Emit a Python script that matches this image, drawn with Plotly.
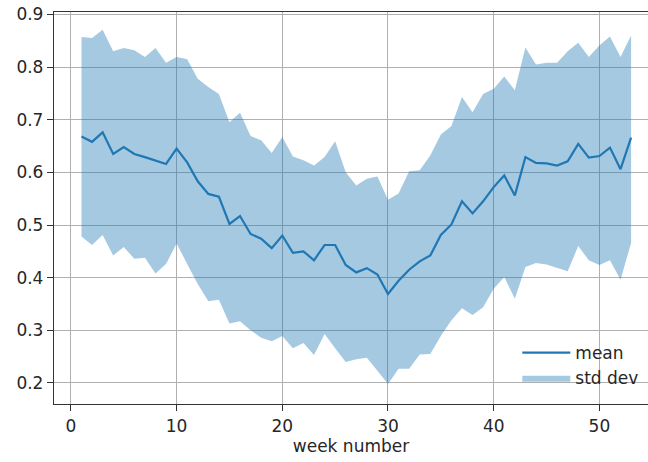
import plotly.graph_objects as go

weeks = list(range(1, 54))
mean = [0.668, 0.658, 0.676, 0.635, 0.648, 0.635, 0.629, 0.623, 0.616, 0.645,
        0.619, 0.583, 0.559, 0.554, 0.502, 0.517, 0.483, 0.474, 0.456, 0.480,
        0.447, 0.450, 0.433, 0.462, 0.462, 0.424, 0.410, 0.418, 0.406, 0.369,
        0.394, 0.415, 0.431, 0.442, 0.481, 0.501, 0.545, 0.522, 0.545, 0.572,
        0.594, 0.556, 0.629, 0.618, 0.617, 0.613, 0.621, 0.654, 0.628, 0.631,
        0.647, 0.606, 0.666]
upper = [0.857, 0.855, 0.871, 0.830, 0.836, 0.832, 0.819, 0.836, 0.808, 0.819,
         0.815, 0.778, 0.762, 0.749, 0.695, 0.713, 0.669, 0.661, 0.637, 0.667,
         0.630, 0.623, 0.613, 0.629, 0.659, 0.600, 0.575, 0.588, 0.592, 0.548,
         0.560, 0.602, 0.604, 0.632, 0.672, 0.688, 0.743, 0.714, 0.749, 0.759,
         0.782, 0.756, 0.837, 0.805, 0.808, 0.808, 0.830, 0.846, 0.819, 0.841,
         0.858, 0.819, 0.860]
lower = [0.478, 0.462, 0.481, 0.442, 0.458, 0.436, 0.438, 0.408, 0.426, 0.465,
         0.426, 0.388, 0.355, 0.358, 0.313, 0.317, 0.300, 0.286, 0.279, 0.289,
         0.266, 0.276, 0.253, 0.293, 0.266, 0.240, 0.245, 0.248, 0.223, 0.198,
         0.227, 0.227, 0.254, 0.255, 0.289, 0.319, 0.342, 0.329, 0.344, 0.379,
         0.401, 0.360, 0.420, 0.428, 0.425, 0.418, 0.412, 0.460, 0.433, 0.424,
         0.433, 0.396, 0.466]

C0 = "#1f77b4"
FONT = "DejaVu Sans"
FS = 17

fig = go.Figure()
fig.add_trace(go.Scatter(x=weeks, y=upper, mode="lines", line=dict(width=0),
                         showlegend=False, hoverinfo="skip"))
fig.add_trace(go.Scatter(x=weeks, y=lower, mode="lines", line=dict(width=0),
                         fill="tonexty", fillcolor="rgba(31,119,180,0.4)",
                         name="std dev", legendrank=2))
fig.add_trace(go.Scatter(x=weeks, y=mean, mode="lines",
                         line=dict(color=C0, width=2.2), name="mean", legendrank=1))

axis_common = dict(
    showgrid=True, gridcolor="#b0b0b0", gridwidth=1.3,
    showline=True, linecolor="#333333", linewidth=1.3,
    ticks="outside", ticklen=6, tickcolor="#333333", tickwidth=1.2,
    tickfont=dict(family=FONT, size=FS, color="#262626"),
    zeroline=False, automargin=False, ticklabeloverflow="allow",
)

fig.update_layout(
    width=648, height=462,
    margin=dict(l=54, r=0, t=12, b=58),
    paper_bgcolor="white", plot_bgcolor="white",
    font=dict(family=FONT, size=FS, color="#262626"),
    showlegend=True,
    legend=dict(x=0.78, y=0.176, xanchor="left", yanchor="top",
                traceorder="normal",
                bgcolor="rgba(0,0,0,0)", borderwidth=0, itemwidth=48,
                font=dict(family=FONT, size=FS, color="#262626"),
                tracegroupgap=0),
    xaxis=dict(range=[-1.6, 54.6], tickvals=[0, 10, 20, 30, 40, 50],
               mirror=True,
               title=dict(text="week number", font=dict(family=FONT, size=FS, color="#262626"), standoff=2),
               **axis_common),
    yaxis=dict(range=[0.160, 0.9046], tickvals=[0.2, 0.3, 0.4, 0.5, 0.6, 0.7, 0.8, 0.9],
               tickformat=".1f", **axis_common),
)

# remove the default page margin so the figure fills the window exactly
fig.write_html("out.html", config={"displayModeBar": False},
               post_script="document.body.style.margin='0px';")
